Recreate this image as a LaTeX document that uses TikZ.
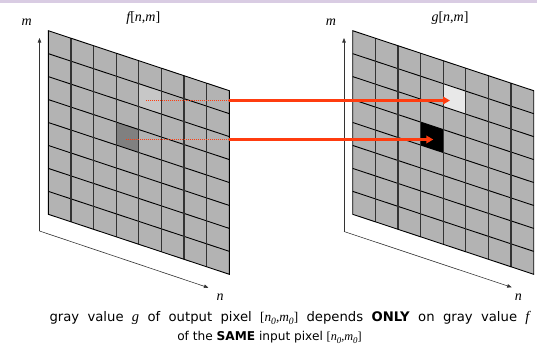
\documentclass[tikz,border=0pt]{standalone}
\usepackage{fontspec}
\setmainfont{Liberation Serif}
\newfontfamily\vsans{DejaVu Sans}
\usetikzlibrary{arrows.meta}
\definecolor{cellgray}{HTML}{B3B3B3}
\definecolor{arrred}{HTML}{FF3C0F}
\definecolor{band}{HTML}{D9CCE3}
\definecolor{axgray}{HTML}{333333}
\newcommand\mysub[1]{\raisebox{-0.4ex}{\fontsize{9.6}{9.6}\selectfont\itshape #1}}
\newcommand\mi[1]{{\rmfamily\fontsize{14.5}{14.5}\selectfont\itshape #1}}
\newcommand\pix{{\rmfamily\fontsize{13.3}{13.3}\selectfont[\itshape n\mysub{0},m\mysub{0}\upshape]}}
\newcommand\pcell[3]{\fill[#3] (22.625*#1,7.5*#1+22.95*#2) -- ++(22.625,7.5) -- ++(0,22.95) -- ++(-22.625,-7.5) -- cycle;}
\newcommand\pgrid[3]{%
\begin{scope}[shift={(#1,#2)}]
 \fill[cellgray] (0,0) -- (181,60) -- (181,243.6) -- (0,183.6) -- cycle;
 #3
 \foreach \j in {1,...,7} \draw[hline] (0,22.95*\j) -- (181,60+22.95*\j);
 \foreach \i in {1,...,7} \draw[vline] (22.625*\i,7.5*\i) -- (22.625*\i,7.5*\i+183.6);
 \draw[border] (0,0) -- (181,60) -- (181,243.6) -- (0,183.6) -- cycle;
\end{scope}}
\begin{document}
\begin{tikzpicture}[x=1pt,y=-1pt,
  hline/.style={black,line width=0.9pt},
  vline/.style={black!80,line width=1.2pt},
  border/.style={black,line width=0.9pt,line join=miter},
  axis/.style={axgray,line width=0.6pt,-{Triangle[length=4.5pt,width=3.5pt]}},
  redarrow/.style={arrred,line width=3pt,-{Triangle[length=7pt,width=7.5pt]}},
  reddot/.style={arrred,line width=0.7pt,dash pattern=on 1pt off 1pt},
  lab/.style={inner sep=0pt,font=\fontsize{14}{14}\selectfont\itshape},
  txt/.style={inner sep=0pt,font=\vsans\fontsize{13.2}{15}\selectfont}]
\useasboundingbox (0,0) rectangle (537,348);
\fill[band] (0,0) rectangle (537,2.5);
% grids
\pgrid{48.3}{30.7}{\pcell{4}{1}{black!22}\pcell{3}{3}{black!50}}
\pgrid{352.7}{30.7}{\pcell{4}{1}{black!9}\pcell{3}{3}{black}}
% axes
\coordinate (lo) at (39.5,231);
\coordinate (lm) at (39.5,38);
\coordinate (ln) at (208.5,287.7);
\coordinate (ro) at (344,231.5);
\coordinate (rm) at (344,38);
\coordinate (rn) at (511.7,287.3);
\draw[axis] (lo) -- (lm);
\draw[axis] (lo) -- (ln);
\draw[axis] (ro) -- (rm);
\draw[axis] (ro) -- (rn);
% labels
\node[lab] (mL) at (26.7,22.7) {m};
\node[lab] (nL) at (220,296.7) {n};
\node[lab] (fT) at (143.3,18.3) {f\upshape[\itshape n\upshape,\itshape m\upshape]};
\node[lab] (mR) at (331,22.7) {m};
\node[lab] (nR) at (518.3,296.7) {n};
\node[lab] (gT) at (450,18.3) {g\upshape[\itshape n\upshape,\itshape m\upshape]};
% red arrows
\coordinate (d1) at (146,100.5);
\coordinate (s1) at (229.3,100.5);
\coordinate (e1) at (450,100.5);
\coordinate (d2) at (126,139.5);
\coordinate (s2) at (229.3,139.5);
\coordinate (e2) at (433.3,139.5);
\draw[reddot] (d1) -- (s1);
\draw[reddot] (d2) -- (s2);
\draw[redarrow] (s1) -- (e1);
\draw[redarrow] (s2) -- (e2);
% caption
\node[txt,anchor=west] (t1) at (49.3,318) {\makebox[480pt][s]{gray value \mi{g} of output pixel \pix{} depends \textbf{ONLY} on gray value \mi{f}}};
\node[txt] (t2) at (269.5,337.5) {\scalebox{0.92}{of the \textbf{SAME} input pixel \pix}};
\end{tikzpicture}
\end{document}
